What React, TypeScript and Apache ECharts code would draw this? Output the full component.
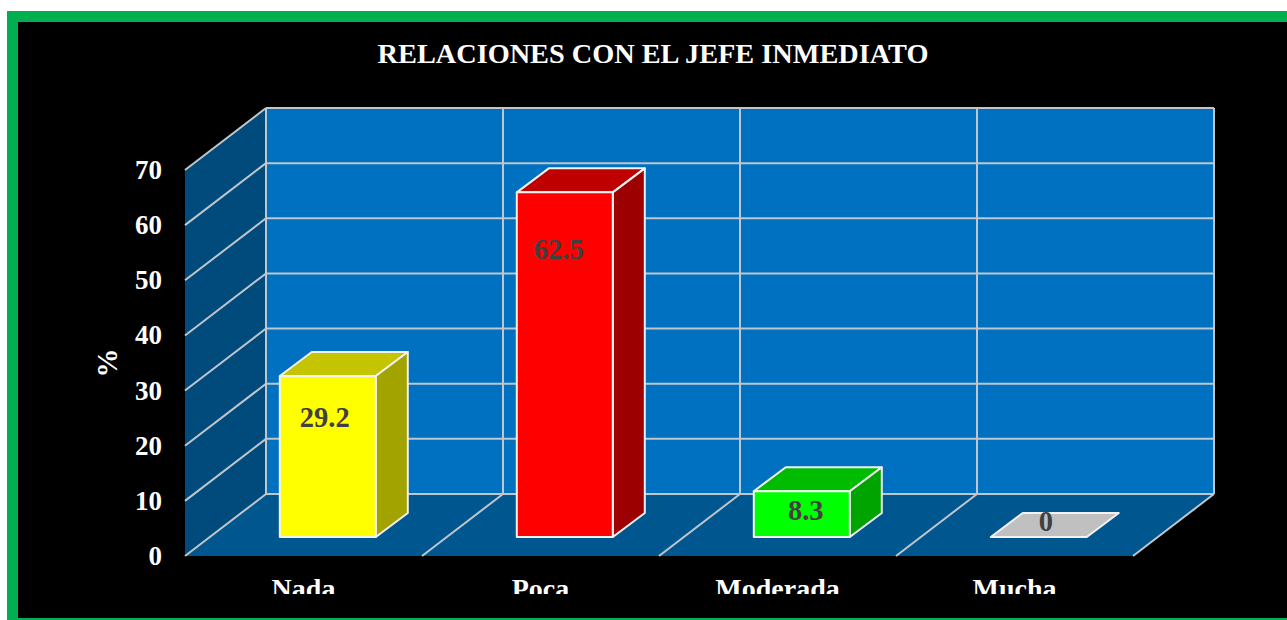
import React, { useEffect, useRef } from "react";
import * as echarts from "echarts";

const titleText = "RELACIONES CON EL JEFE INMEDIATO";
const axisTitle = "%";
const categories = ["Nada", "Poca", "Moderada", "Mucha"];
const values = [29.2, 62.5, 8.3, 0];
const yTicks = [0, 10, 20, 30, 40, 50, 60, 70];
const frontColors = ["#FFFF00", "#FF0000", "#00FF00", "#C0C0C0"];
const topColors = ["#C4C400", "#BE0000", "#00BC00", "#C0C0C0"];
const sideColors = ["#A3A300", "#9C0000", "#00A400", "#C0C0C0"];

const SERIF = "'Liberation Serif', 'Times New Roman', serif";
const GRID_LINE = "#BFC6CC";
const DEPTH_X = 81;
const DEPTH_Y = -62;
const BAR_WIDTH = 96;
const BAR_DX = 24.3;
const BAR_DY = -19;
const BAR_DEPTH_X = 32;
const BAR_DEPTH_Y = -24;

function App() {
  const ref = useRef<HTMLDivElement>(null);

  useEffect(() => {
    document.body.style.margin = "0";
    const chart = echarts.init(ref.current!, null, { renderer: "svg" });
    const labelShift = [
      [-3, 42],
      [-6, 57],
      [4, 19],
      [7, -16],
    ];

    const line = (x1: number, y1: number, x2: number, y2: number) => ({
      type: "line",
      shape: { x1, y1, x2, y2 },
      style: { stroke: GRID_LINE, lineWidth: 2 },
    });
    const poly = (points: number[][], fill: string) => ({
      type: "polygon",
      shape: { points },
      style: { fill, stroke: "none" },
    });

    const renderWalls = (_p: any, api: any) => {
      const top = api.coord([0, yTicks[yTicks.length - 1]])[1];
      const base = api.coord([0, 0])[1];
      const size = api.size([1, 0])[0];
      const left = api.coord([0, 0])[0] - size / 2;
      const right = left + size * categories.length;
      const children: any[] = [
        poly(
          [
            [left + DEPTH_X, top + DEPTH_Y],
            [right + DEPTH_X, top + DEPTH_Y],
            [right + DEPTH_X, base + DEPTH_Y],
            [left + DEPTH_X, base + DEPTH_Y],
          ],
          "#0070C0",
        ),
        poly(
          [
            [left, top],
            [left + DEPTH_X, top + DEPTH_Y],
            [left + DEPTH_X, base + DEPTH_Y],
            [left, base],
          ],
          "#004A7C",
        ),
        poly(
          [
            [left, base],
            [right, base],
            [right + DEPTH_X, base + DEPTH_Y],
            [left + DEPTH_X, base + DEPTH_Y],
          ],
          "#00568F",
        ),
      ];
      yTicks.forEach((t) => {
        const y = api.coord([0, t])[1];
        children.push(line(left, y, left + DEPTH_X, y + DEPTH_Y));
        children.push(line(left + DEPTH_X, y + DEPTH_Y, right + DEPTH_X, y + DEPTH_Y));
      });
      for (let i = 0; i <= categories.length; i++) {
        const x = left + size * i;
        children.push(line(x + DEPTH_X, top + DEPTH_Y, x + DEPTH_X, base + DEPTH_Y));
        if (i > 0) children.push(line(x, base, x + DEPTH_X, base + DEPTH_Y));
      }
      return { type: "group", children };
    };

    const renderBar = (p: any, api: any) => {
      const i = p.dataIndex;
      const val = api.value(1);
      const center = api.coord([i, 0])[0] + BAR_DX;
      const bottom = api.coord([i, 0])[1] + BAR_DY;
      const top = api.coord([i, val])[1] + BAR_DY;
      const l = center - BAR_WIDTH / 2;
      const r = center + BAR_WIDTH / 2;
      const edge = { stroke: "#F2F2F2", lineWidth: 2, lineJoin: "round" };
      const face = (points: number[][], fill: string) => ({
        type: "polygon",
        shape: { points },
        style: { fill, ...edge },
      });
      const children: any[] = [
        face(
          [
            [l, top],
            [r, top],
            [r + BAR_DEPTH_X, top + BAR_DEPTH_Y],
            [l + BAR_DEPTH_X, top + BAR_DEPTH_Y],
          ],
          topColors[i],
        ),
      ];
      if (val > 0) {
        children.push(
          face(
            [
              [r, top],
              [r + BAR_DEPTH_X, top + BAR_DEPTH_Y],
              [r + BAR_DEPTH_X, bottom + BAR_DEPTH_Y],
              [r, bottom],
            ],
            sideColors[i],
          ),
          face(
            [
              [l, top],
              [r, top],
              [r, bottom],
              [l, bottom],
            ],
            frontColors[i],
          ),
        );
      }
      children.push({
        type: "text",
        x: center + labelShift[i][0],
        y: top + labelShift[i][1],
        style: {
          text: String(val),
          fill: "#404040",
          font: `bold 28.5px ${SERIF}`,
          align: "center",
          verticalAlign: "middle",
        },
      });
      return { type: "group", children };
    };

    chart.setOption({
      animation: false,
      backgroundColor: "#FFFFFF",
      title: {
        text: titleText,
        left: 648,
        top: 34,
        textAlign: "center",
        textStyle: { color: "#FFFFFF", fontFamily: SERIF, fontWeight: "bold", fontSize: 28.3 },
      },
      grid: { left: 185, width: 948, top: 170, height: 386, containLabel: false },
      xAxis: {
        type: "category",
        data: categories,
        axisLine: { show: false },
        axisTick: { show: false },
        splitLine: { show: false },
        axisLabel: {
          color: "#FFFFFF",
          fontFamily: SERIF,
          fontWeight: "bold",
          fontSize: 28,
          margin: 18,
        },
      },
      yAxis: {
        type: "value",
        min: 0,
        max: 70,
        interval: 10,
        name: axisTitle,
        nameLocation: "middle",
        nameRotate: 90,
        nameGap: 64,
        nameTextStyle: { color: "#FFFFFF", fontFamily: SERIF, fontWeight: "bold", fontSize: 29 },
        axisLine: { show: false },
        axisTick: { show: false },
        splitLine: { show: false },
        axisLabel: {
          color: "#FFFFFF",
          fontFamily: SERIF,
          fontWeight: "bold",
          fontSize: 27,
          margin: 23,
        },
      },
      graphic: [
        { type: "rect", z: -2, shape: { x: 7, y: 11, width: 1280, height: 609 }, style: { fill: "#00B050" } },
        { type: "rect", z: -1, shape: { x: 18, y: 22, width: 1269, height: 596 }, style: { fill: "#000000" } },
        { type: "rect", z: 100, shape: { x: 18, y: 594, width: 1269, height: 24 }, style: { fill: "#000000" } },
      ],
      series: [
        {
          type: "custom",
          z: 1,
          silent: true,
          clip: false,
          coordinateSystem: "cartesian2d",
          renderItem: renderWalls,
          data: [[0, 0]],
        },
        {
          type: "custom",
          z: 3,
          silent: true,
          clip: false,
          coordinateSystem: "cartesian2d",
          renderItem: renderBar,
          data: values.map((v, i) => [i, v]),
        },
      ],
    });
    return () => chart.dispose();
  }, []);

  return <div ref={ref} style={{ width: 1287, height: 620 }} />;
}

export default App;
